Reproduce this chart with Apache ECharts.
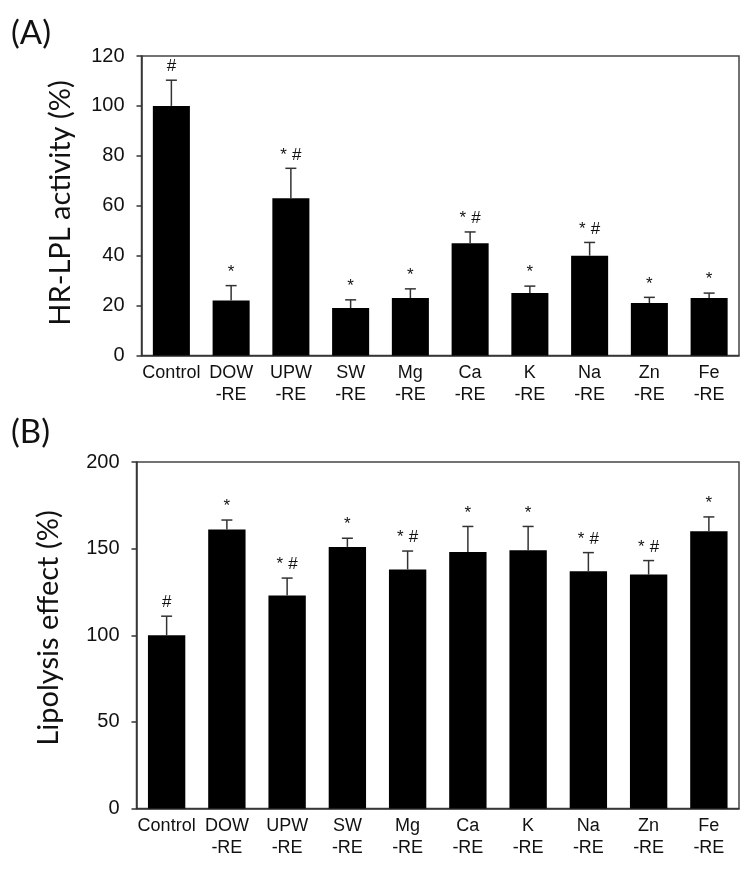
<!DOCTYPE html>
<html>
<head>
<meta charset="utf-8">
<script src="https://cdn.jsdelivr.net/npm/echarts@6/dist/echarts.min.js"></script>
<style>
html,body{margin:0;padding:0;background:#fff;}
#chart{width:751px;height:875px;}
</style>
</head>
<body>
<div id="chart"></div>
<script>
var categories = ['Control', 'DOW\n-RE', 'UPW\n-RE', 'SW\n-RE', 'Mg\n-RE', 'Ca\n-RE', 'K\n-RE', 'Na\n-RE', 'Zn\n-RE', 'Fe\n-RE'];

// Panel A: HR-LPL activity (%)
var valuesA = [100, 22, 63, 19, 23, 45, 25, 40, 21, 23];
var errorsA = [10.3, 6, 12, 3.3, 3.7, 4.5, 2.8, 5.3, 2.3, 2];
var marksA  = ['#', '*', '* #', '*', '*', '* #', '*', '* #', '*', '*'];

// Panel B: Lipolysis effect (%)
var valuesB = [100, 161, 123, 151, 138, 148, 149, 137, 135, 160];
var errorsB = [11, 5.5, 10, 5, 10.6, 14.8, 13.8, 10.7, 8.1, 8.3];
var marksB  = ['#', '*', '* #', '*', '* #', '*', '*', '* #', '* #', '*'];

var yTicksA = {min: 0, max: 120, interval: 20};
var yTicksB = {min: 0, max: 200, interval: 50};

var FONT = '"Liberation Sans", Arial, sans-serif';
var AXIS_COLOR = '#333';

function errData(vals, errs, marks) {
  return vals.map(function (v, i) { return [i, v, v + errs[i], marks[i]]; });
}

function errRender(params, api) {
  var x = api.value(0);
  var base = api.coord([x, api.value(1)]);
  var top = api.coord([x, api.value(2)]);
  var mark = api.value(3);
  var half = 5.5;
  var style = {stroke: AXIS_COLOR, lineWidth: 1.5};
  var children = [
    {type: 'line', shape: {x1: base[0], y1: base[1], x2: top[0], y2: top[1]}, style: style},
    {type: 'line', shape: {x1: top[0] - half, y1: top[1], x2: top[0] + half, y2: top[1]}, style: style}
  ];
  var parts = String(mark).split(' ');
  if (parts.length === 1) {
    children.push({type: 'text', x: top[0], y: top[1] - 5,
      style: {text: mark, fill: '#111', font: '17px ' + FONT, textAlign: 'center', textVerticalAlign: 'bottom'}});
  } else {
    children.push({type: 'text', x: top[0] - 4, y: top[1] - 5,
      style: {text: parts[0], fill: '#111', font: '17px ' + FONT, textAlign: 'right', textVerticalAlign: 'bottom'}});
    children.push({type: 'text', x: top[0] + 1, y: top[1] - 5,
      style: {text: parts[1], fill: '#111', font: '17px ' + FONT, textAlign: 'left', textVerticalAlign: 'bottom'}});
  }
  return {type: 'group', children: children};
}

function xAxisCfg(gridIndex) {
  return {
    type: 'category', gridIndex: gridIndex, data: categories,
    axisLine: {lineStyle: {color: AXIS_COLOR, width: 1.5}},
    axisTick: {alignWithLabel: true, length: 6, lineStyle: {color: AXIS_COLOR, width: 1.5}},
    axisLabel: {color: '#111', fontFamily: FONT, fontSize: 18, lineHeight: 22, margin: 7, interval: 0}
  };
}
function yAxisCfg(gridIndex, t) {
  return {
    type: 'value', gridIndex: gridIndex, min: t.min, max: t.max, interval: t.interval,
    splitLine: {show: false},
    axisLine: {show: true, lineStyle: {color: AXIS_COLOR, width: 1.5}},
    axisTick: {show: true, length: 5, lineStyle: {color: AXIS_COLOR, width: 1.5}},
    axisLabel: {color: '#111', fontFamily: FONT, fontSize: 20, margin: 17}
  };
}

var chart = echarts.init(document.getElementById('chart'), null, {renderer: 'canvas'});
chart.setOption({
  animation: false,
  backgroundColor: '#fff',
  grid: [
    {left: 141.5, top: 56, width: 597.5, height: 299.5, show: true, borderColor: '#444', borderWidth: 1.5, backgroundColor: 'transparent'},
    {left: 136.5, top: 462, width: 602.5, height: 346.5, show: true, borderColor: '#444', borderWidth: 1.5, backgroundColor: 'transparent'}
  ],
  xAxis: [xAxisCfg(0), xAxisCfg(1)],
  yAxis: [yAxisCfg(0, yTicksA), yAxisCfg(1, yTicksB)],
  graphic: [
    {type: 'text', left: 11, top: 17, style: {text: '(A)', font: '33px Lato, "Open Sans", sans-serif', fill: '#111'}},
    {type: 'text', left: 11, top: 416, style: {text: '(B)', font: '33px Lato, "Open Sans", sans-serif', fill: '#111'}},
    {type: 'text', x: 61, y: 203, rotation: Math.PI / 2,
      style: {text: 'HR-LPL activity (%)', font: '29px Lato, "Open Sans", sans-serif', fill: '#111', textAlign: 'center', textVerticalAlign: 'middle'}},
    {type: 'text', x: 49, y: 628, rotation: Math.PI / 2,
      style: {text: 'Lipolysis effect (%)', font: '29px Lato, "Open Sans", sans-serif', fill: '#111', textAlign: 'center', textVerticalAlign: 'middle'}}
  ],
  series: [
    {type: 'bar', xAxisIndex: 0, yAxisIndex: 0, data: valuesA, barCategoryGap: '38%',
      itemStyle: {color: '#000'}, silent: true},
    {type: 'custom', xAxisIndex: 0, yAxisIndex: 0, data: errData(valuesA, errorsA, marksA),
      renderItem: errRender, encode: {x: 0, y: [1, 2]}, z: 5, silent: true},
    {type: 'bar', xAxisIndex: 1, yAxisIndex: 1, data: valuesB, barCategoryGap: '38%',
      itemStyle: {color: '#000'}, silent: true},
    {type: 'custom', xAxisIndex: 1, yAxisIndex: 1, data: errData(valuesB, errorsB, marksB),
      renderItem: errRender, encode: {x: 0, y: [1, 2]}, z: 5, silent: true}
  ]
});
</script>
</body>
</html>
